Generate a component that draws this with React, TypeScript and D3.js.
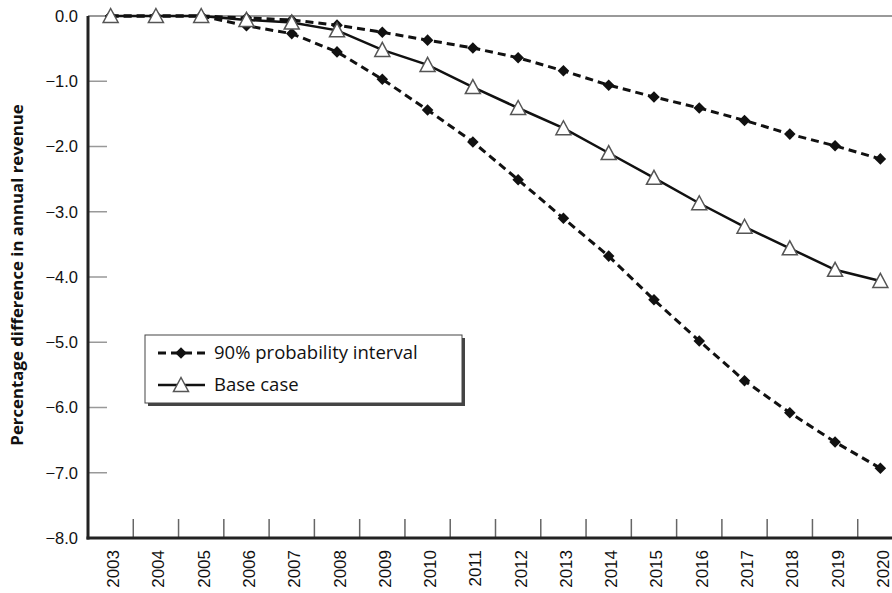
import React from "react";
import * as d3 from "d3";

const years = [2003, 2004, 2005, 2006, 2007, 2008, 2009, 2010, 2011, 2012, 2013, 2014, 2015, 2016, 2017, 2018, 2019, 2020];
const baseCase = [0, 0, 0, -0.06, -0.1, -0.22, -0.52, -0.75, -1.09, -1.41, -1.72, -2.1, -2.48, -2.87, -3.23, -3.56, -3.89, -4.06];
const upperBound = [0, 0, 0, -0.03, -0.06, -0.14, -0.25, -0.37, -0.49, -0.64, -0.84, -1.06, -1.24, -1.41, -1.6, -1.81, -1.99, -2.19];
const lowerBound = [0, 0, 0, -0.15, -0.27, -0.55, -0.97, -1.44, -1.93, -2.51, -3.1, -3.68, -4.35, -4.98, -5.59, -6.08, -6.53, -6.93];
const yTicks = [0, -1, -2, -3, -4, -5, -6, -7, -8];
const legendLabels = ["90% probability interval", "Base case"];
const yTitle = "Percentage difference in annual revenue";

const W = 892, H = 593;
const left = 88, top = 16, bottom = 538, right = 903;

export default function App() {
  const x = d3.scaleBand<number>().domain(years).range([left, right]);
  const y = d3.scaleLinear().domain([0, -8]).range([top, bottom]);
  const cx = (yr: number) => (x(yr) as number) + x.bandwidth() / 2;
  const line = d3.line<number>().x((_, i) => cx(years[i])).y((v) => y(v));
  const fmt = (v: number) => (v === 0 ? "0.0" : "\u2212" + Math.abs(v).toFixed(1));
  const diamond = d3.symbol().type(d3.symbolDiamond2).size(85);
  const tri = (px: number, py: number) => `M${px},${py - 7.5}L${px + 7.5},${py + 6.5}L${px - 7.5},${py + 6.5}Z`;

  return (
    <svg width={W} height={H} style={{ position: "absolute", left: 0, top: 0, background: "#fff" }}>
      {/* zero line */}
      <line x1={left} x2={W} y1={y(0)} y2={y(0)} stroke="#999" strokeWidth={2} />
      {/* y ticks */}
      {yTicks.map((t) => (
        <g key={t}>
          {t !== 0 && t !== -8 && (
            <line x1={left} x2={left + 19} y1={y(t)} y2={y(t)} stroke="#999" strokeWidth={1.5} />
          )}
          <text x={78} y={y(t)} dy="0.36em" textAnchor="end" fontFamily="Liberation Sans, Arial, sans-serif" fontSize={16.5} fill="#111">
            {fmt(t)}
          </text>
        </g>
      ))}
      {/* x boundary ticks */}
      {years.slice(1).map((yr) => (
        <line key={yr} x1={x(yr) as number} x2={x(yr) as number} y1={bottom - 19} y2={bottom} stroke="#666" strokeWidth={1.5} />
      ))}
      {/* year labels */}
      {years.map((yr) => (
        <text key={yr} transform={`translate(${cx(yr) + 8.5},550) rotate(-90)`} textAnchor="end" fontFamily="Liberation Sans, Arial, sans-serif" fontSize={17} fill="#111">
          {yr}
        </text>
      ))}
      {/* axes */}
      <line x1={left} x2={left} y1={top} y2={bottom + 1.5} stroke="#222" strokeWidth={3} />
      <line x1={left - 1.5} x2={W} y1={bottom} y2={bottom} stroke="#222" strokeWidth={3} />
      {/* y title */}
      <text transform={`translate(22.5,275) rotate(-90)`} textAnchor="middle" fontFamily="Open Sans, sans-serif" fontWeight="bold" fontSize={16.8} fill="#111">
        {yTitle}
      </text>
      {/* series */}
      <path d={line(upperBound) || ""} fill="none" stroke="#111" strokeWidth={3} strokeDasharray="8,5" />
      <path d={line(lowerBound) || ""} fill="none" stroke="#111" strokeWidth={3} strokeDasharray="8,5" />
      {upperBound.map((v, i) => (
        <path key={"u" + i} d={diamond() || ""} transform={`translate(${cx(years[i])},${y(v)})`} fill="#111" />
      ))}
      {lowerBound.map((v, i) => (
        <path key={"l" + i} d={diamond() || ""} transform={`translate(${cx(years[i])},${y(v)})`} fill="#111" />
      ))}
      <path d={line(baseCase) || ""} fill="none" stroke="#111" strokeWidth={2.5} />
      {baseCase.map((v, i) => (
        <path key={"b" + i} d={tri(cx(years[i]), y(v))} fill="#fff" stroke="#555" strokeWidth={1.5} />
      ))}
      {/* legend */}
      <rect x={148} y={338} width={317} height={68} fill="#444" />
      <rect x={145} y={335} width={317} height={68} fill="#fff" stroke="#444" strokeWidth={1} />
      <line x1={158} x2={205} y1={353} y2={353} stroke="#111" strokeWidth={3} strokeDasharray="8,5" />
      <path d={diamond() || ""} transform="translate(181,353)" fill="#111" />
      <text x={214} y={353} dy="0.35em" fontFamily="Open Sans, sans-serif" fontSize={18.5} fill="#111">{legendLabels[0]}</text>
      <line x1={158} x2={205} y1={385} y2={385} stroke="#111" strokeWidth={2.5} />
      <path d={tri(181, 385)} fill="#fff" stroke="#555" strokeWidth={1.5} />
      <text x={214} y={385} dy="0.35em" fontFamily="Open Sans, sans-serif" fontSize={18.5} fill="#111">{legendLabels[1]}</text>
    </svg>
  );
}
